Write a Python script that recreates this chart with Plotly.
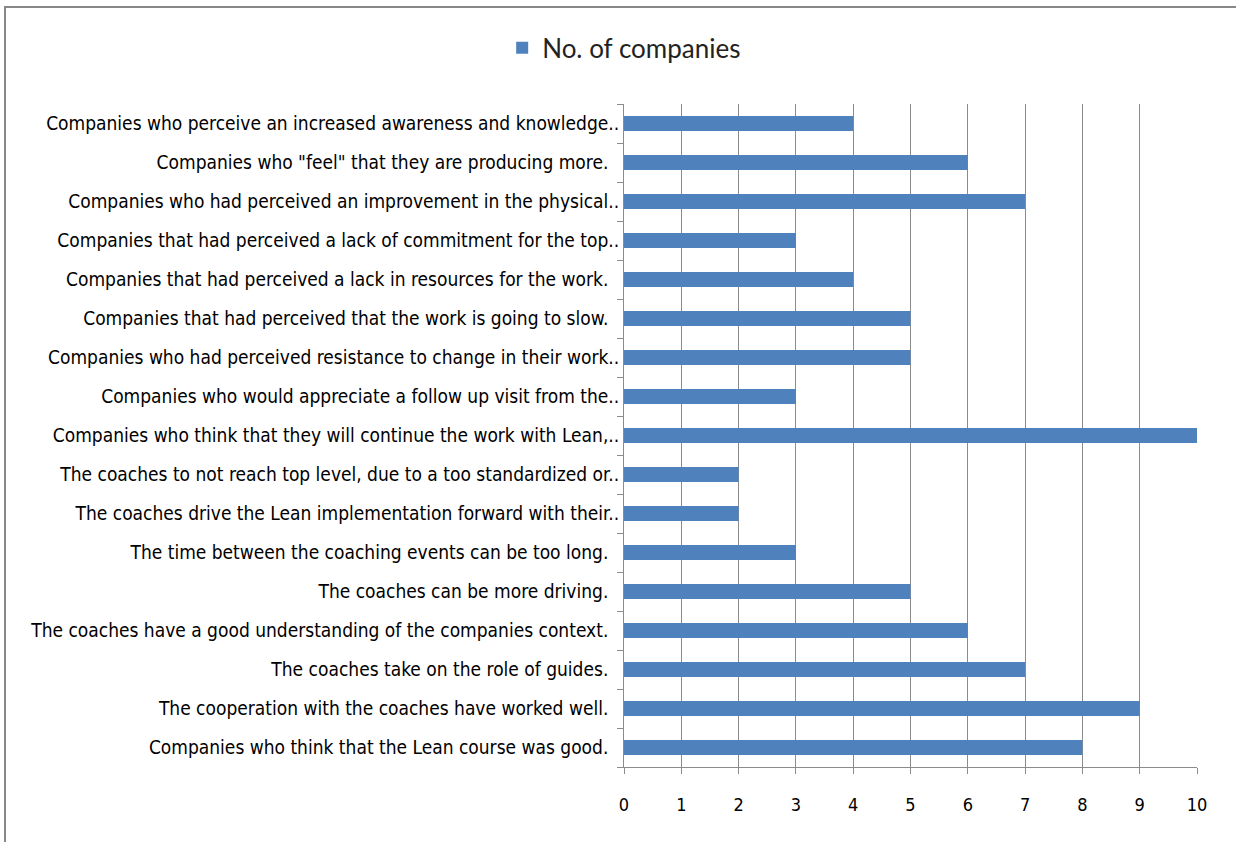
import plotly.graph_objects as go

categories = [
    "Companies who think that the Lean course was good.\u00a0\u00a0",
    "The cooperation with the coaches have worked well.\u00a0\u00a0",
    "The coaches take on the role of guides.\u00a0\u00a0",
    "The coaches have a good understanding of the companies context.\u00a0\u00a0",
    "The coaches can be more driving.\u00a0\u00a0",
    "The time between the coaching events can be too long.\u00a0\u00a0",
    "The coaches drive the Lean implementation forward with their..",
    "The coaches to not reach top level, due to a too standardized or..",
    "Companies who think that they will continue the work with Lean,..",
    "Companies who would appreciate a follow up visit from the..",
    "Companies who had perceived resistance to change in their work..",
    "Companies that had perceived that the work is going to slow.\u00a0\u00a0",
    "Companies that had perceived a lack in resources for the work.\u00a0\u00a0",
    "Companies that had perceived a lack of commitment for the top..",
    "Companies who had perceived an improvement in the physical..",
    "Companies who \"feel\" that they are producing more.\u00a0\u00a0",
    "Companies who perceive an increased awareness and knowledge..",
]
values = [8, 9, 7, 6, 5, 3, 2, 2, 10, 3, 5, 5, 4, 3, 7, 6, 4]
x_ticks = list(range(0, 11))
series_name = "No. of companies"

BAR = "#4F81BD"
GRID = "#8C8C8C"
LABEL_FONT = "Liberation Sans Narrow, DejaVu Sans Condensed, Arial Narrow, sans-serif"

fig = go.Figure()
fig.add_trace(go.Bar(
    y=categories, x=values, orientation="h", name=series_name,
    marker=dict(color=BAR, line=dict(width=0)), showlegend=True,
))

fig.update_layout(
    width=1236, height=842,
    margin=dict(l=624, r=39, t=104, b=75),
    paper_bgcolor="white", plot_bgcolor="white",
    bargap=0.62,
    showlegend=True,
    legend=dict(
        orientation="h", xref="container", yref="container",
        x=0.505, xanchor="center", y=0.971, yanchor="top",
        font=dict(family="Lato, Open Sans, sans-serif", size=26, color="#222222"),
        itemwidth=30,
    ),
    xaxis=dict(
        range=[0, 10], tickvals=x_ticks, ticktext=[str(v) for v in x_ticks],
        showgrid=True, gridcolor=GRID, gridwidth=1,
        showline=True, linecolor=GRID, linewidth=1,
        ticks="outside", ticklen=6, tickcolor=GRID,
        zeroline=False, ticklabelstandoff=15,
        tickfont=dict(family=LABEL_FONT, size=18, color="black"),
    ),
    yaxis=dict(
        categoryorder="array", categoryarray=categories,
        showline=True, linecolor=GRID, linewidth=1,
        ticks="outside", ticklen=6, tickcolor=GRID, tickson="boundaries",
        showgrid=False, zeroline=False,
        tickfont=dict(family=LABEL_FONT, size=19, color="black"),
    ),
    shapes=[dict(
        type="rect", xref="paper", yref="paper",
        x0=(5 - 624) / 573, x1=(1240 - 624) / 573,
        y0=-(846 - 767) / 663, y1=1 + (104 - 7) / 663,
        line=dict(color="#888888", width=2), layer="below",
    )],
)

fig.write_html("out.html")
